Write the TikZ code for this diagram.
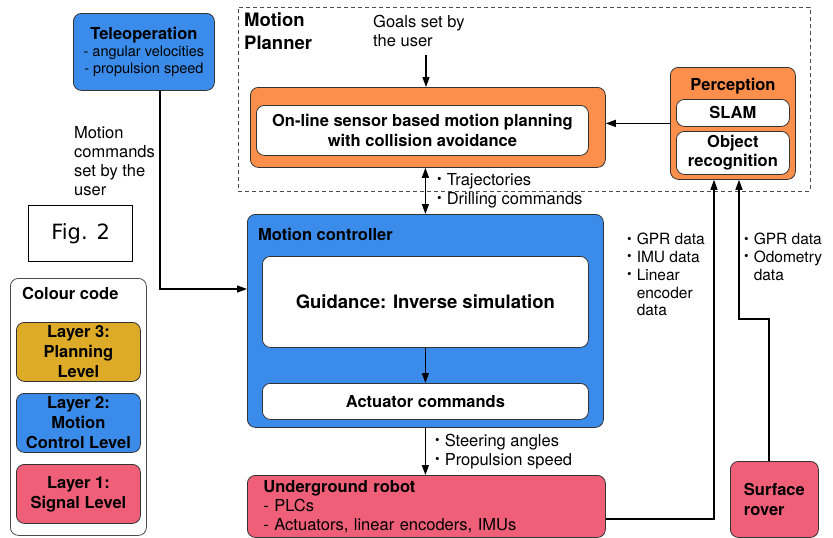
\documentclass[tikz,border=0pt]{standalone}
\usepackage{fontspec}
\setmainfont{TeX Gyre Heros}
\newfontfamily\figfont{DejaVu Sans}
\usetikzlibrary{arrows.meta}

\definecolor{layerblue}{RGB}{59,140,234}
\definecolor{layerorange}{RGB}{253,143,77}
\definecolor{layerred}{RGB}{239,96,120}
\definecolor{layergold}{RGB}{221,171,39}

% small list bullet
\newcommand{\itemdot}{\raisebox{.2ex}{\fontsize{13}{13}\selectfont\textbullet}\hspace{5pt}}
\newcommand{\itemgap}{\phantom{\itemdot}}

\begin{document}
\begin{tikzpicture}[x=1pt, y=-1pt,
  >={Triangle[length=10pt,width=7pt]},
  box/.style={draw=black!80, line width=0.8pt, rounded corners=8pt, inner sep=0pt, anchor=north west},
  inbox/.style={box, fill=white},
  head/.style={font=\fontsize{16.5}{19.5}\selectfont\bfseries, inner sep=0pt},
  note/.style={font=\fontsize{16.5}{19}\selectfont, anchor=north west, align=left, inner sep=0pt},
  wire/.style={line width=1.2pt}]
  \useasboundingbox (0,0) rectangle (833,538);

  % planning layer
  \node[draw=black!70, dash pattern=on 4pt off 3pt, line width=0.6pt, minimum width=572pt, minimum height=184pt, anchor=north west, inner sep=0pt] (mp) at (238,7) {};
  \node[head, font=\fontsize{18.5}{23}\selectfont\bfseries, anchor=north west, align=left] (mptitle) at (244,13) {Motion\\Planner};
  \node[note] (goals) at (373,15) {Goals set by\\the user};
  \node[box, fill=layerorange, minimum width=355pt, minimum height=80pt] (planner) at (250,87) {};
  \node[inbox, head, minimum width=332pt, minimum height=50pt, align=center] (online) at (256,105) {On-line sensor based motion planning\\with collision avoidance};
  \coordinate (goalsend) at (426,55);
  \draw[wire, ->] (goalsend) -- (goalsend |- planner.north);

  \node[box, fill=layerorange, minimum width=125pt, minimum height=112pt] (perc) at (670,67) {};
  \node[head] (perctitle) at (733,86) {Perception};
  \node[inbox, head, minimum width=113pt, minimum height=27pt] (slam) at (676,99) {SLAM};
  \node[inbox, head, minimum width=113pt, minimum height=43pt, align=center] (objrec) at (676,131) {Object\\recognition};
  \draw[wire, ->] (perc.west) -- (perc.west -| planner.east);

  % motion control layer
  \node[box, fill=layerblue, minimum width=356pt, minimum height=213pt] (mc) at (247,214) {};
  \node[head, anchor=north west] (mctitle) at (258,228) {Motion controller};
  \node[inbox, font=\fontsize{18.5}{22}\selectfont\bfseries, minimum width=326pt, minimum height=91pt] (guide) at (262,256) {Guidance: Inverse simulation};
  \node[inbox, head, minimum width=326pt, minimum height=36pt] (act) at (262,383) {Actuator commands};
  \draw[wire, ->] (guide.south) -- (act.north);
  \draw[wire, <->] (mc.north |- planner.south) -- (mc.north);
  \node[note] (traj) at (437,173) {\itemdot Trajectories\\\itemdot Drilling commands};

  \node[box, fill=layerblue, minimum width=141pt, minimum height=77pt, align=center, font=\fontsize{14.5}{17}\selectfont] (teleop) at (73,13) {{\fontsize{16.5}{19}\selectfont\bfseries Teleoperation}\\- angular velocities\\- propulsion speed};
  \node[note] (motcmd) at (74,126) {Motion\\commands\\set by the\\user};
  \draw[wire, ->] (teleop.south -| 160,0) |- (mc.west |- 0,289);

  % signal layer
  \node[box, fill=layerred, minimum width=358pt, minimum height=62pt, text width=326pt, inner xsep=16pt, align=left, font=\fontsize{16.5}{19}\selectfont] (robot) at (247,475) {{\bfseries Underground robot}\\- PLCs\\- Actuators, linear encoders, IMUs};
  \node[box, head, fill=layerred, minimum width=88pt, minimum height=76pt, align=left] (rover) at (730,461) {Surface\\rover};
  \draw[wire, ->] (mc.south) -- (mc.south |- robot.north);
  \node[note] (steer) at (435,434) {\itemdot Steering angles\\\itemdot Propulsion speed};

  \draw[wire, ->] (robot.east |- 0,519) -| (perc.south -| 714,0);
  \draw[wire, ->] (rover.north -| 769,0) -- (769,319) -| (perc.south -| 739,0);
  \node[note, font=\fontsize{15.5}{17.8}\selectfont] (gpr) at (627,233) {\itemdot GPR data\\\itemdot IMU data\\\itemdot Linear\\\itemgap encoder\\\itemgap data};
  \node[note, font=\fontsize{15.5}{17.8}\selectfont] (odo) at (744,233) {\itemdot GPR data\\\itemdot Odometry\\\itemgap data};

  % legend
  \node[draw, line width=1.2pt, minimum width=104pt, minimum height=56pt, anchor=north west, font=\figfont\fontsize{21}{25}\selectfont] (fig) at (28,205) {Fig. 2};
  \node[box, draw=black!70, fill=white, minimum width=136pt, minimum height=257pt] (legend) at (10,278) {};
  \node[head, anchor=north west] (legtitle) at (22,287) {Colour code};
  \node[box, head, font=\fontsize{16.5}{20}\selectfont\bfseries, fill=layergold, minimum width=124pt, minimum height=59pt, align=center] (lay3) at (16,322) {Layer 3:\\Planning\\Level};
  \node[box, head, font=\fontsize{16.5}{20}\selectfont\bfseries, fill=layerblue, minimum width=124pt, minimum height=59pt, align=center] (lay2) at (16,393) {Layer 2:\\Motion\\Control Level};
  \node[box, head, font=\fontsize{16.5}{20}\selectfont\bfseries, fill=layerred, minimum width=124pt, minimum height=59pt, align=center] (lay1) at (16,464) {Layer 1:\\Signal Level};
\end{tikzpicture}
\end{document}
